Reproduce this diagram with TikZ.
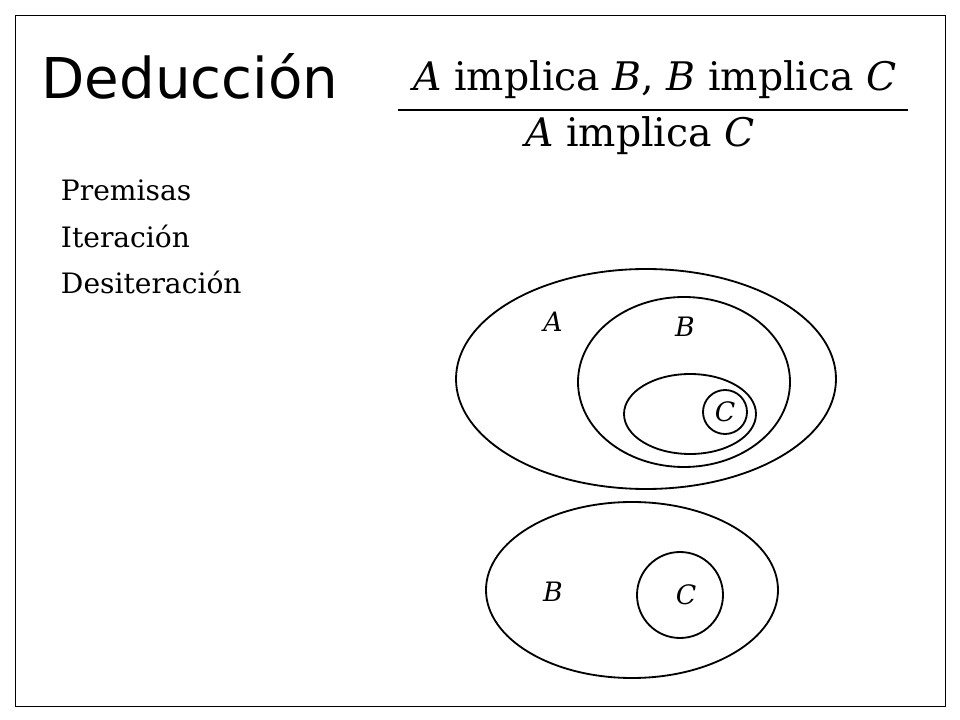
\documentclass[tikz,border=0pt]{standalone}
\usepackage{fontspec}
\setmainfont{DejaVu Serif}
\newfontfamily\titlefont{DejaVu Sans}
\usetikzlibrary{positioning}
\tikzset{
  lbl/.style={font=\fontsize{19}{22}\selectfont\itshape},
  item/.style={anchor=west,font=\fontsize{20}{24}\selectfont},
  set/.style={draw,line width=1.3pt}
}
\begin{document}
\begin{tikzpicture}[x=0.025cm,y=-0.025cm]
		\useasboundingbox (0,0) rectangle (960,720);
		\draw (15,15) rectangle (945,706);
		
		% title and rule
		\node (title) at (190,76) {\titlefont\fontsize{40}{44}\selectfont Deducción};
		\node (prem) at (655,80) {\fontsize{28}{32}\selectfont\textit{A} implica \textit{B}, \textit{B} implica \textit{C}};
		\node (concl) at (640,136) {\fontsize{28}{32}\selectfont\textit{A} implica \textit{C}};
		\draw [line width=1.3pt] (398,110) -- (908,110);
		
		\node [item] (premisas) at (56,190) {Premisas};
		\node [item] (iter) at (56,236) {Iteración};
		\node [item] (desiter) at (56,282) {Desiteración};
		
		% premisas
		\draw [set] (646,379) ellipse (190 and 110);
		\draw [set] (684,382) ellipse (106 and 85);
		\draw [set] (690,414) ellipse (66 and 40);
		\draw [set] (725,412) circle (22);
		\node [lbl] (la) at (553,322) {A};
		\node [lbl] (lb) at (685,327) {B};
		\node [lbl] (lc) at (725,412) {C};
		
		% conclusion
		\draw [set] (632,590) ellipse (146 and 88);
		\draw [set] (680,595) circle (43);
		\node [lbl] (lb2) at (553,592) {B};
		\node [lbl] (lc2) at (686,595) {C};
		
\end{tikzpicture}
\end{document}
